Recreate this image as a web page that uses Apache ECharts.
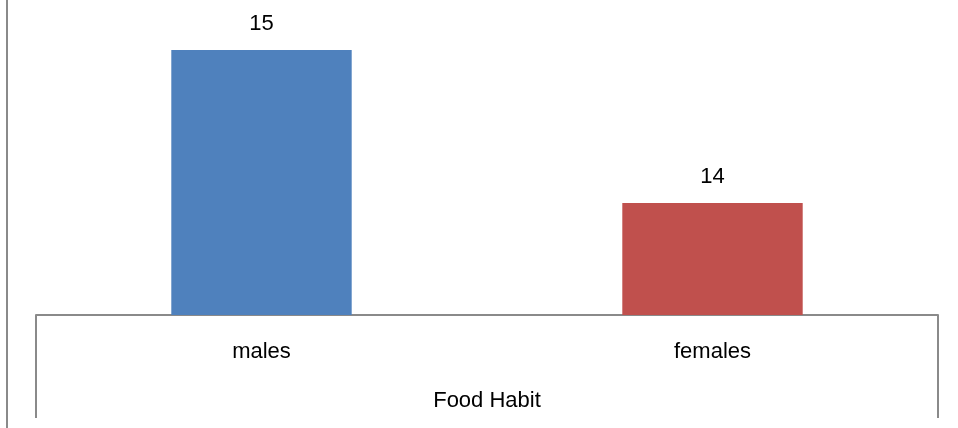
<!DOCTYPE html>
<html>
<head>
<meta charset="utf-8">
<script src="https://cdn.jsdelivr.net/npm/echarts@6/dist/echarts.min.js"></script>
<style>
  html, body { margin: 0; padding: 0; background: #fff; }
  #main { width: 958px; height: 428px; }
</style>
</head>
<body>
<div id="main"></div>
<script>
(function () {

    // data
    var categories = ['males', 'females'];
    var counts = [15, 14];
    var barColors = ['#4F81BD', '#C0504D'];
    var axisTitle = 'Food Habit';

    var lineColor = '#8a8a8a';
    var font = '"Liberation Sans", Arial, sans-serif';

    var chart = echarts.init(document.getElementById('main'));

    var option = {
        backgroundColor: '#ffffff',
        animation: false,
        grid: {
            left: 36,
            right: 20,
            top: 0,
            bottom: 113
        },
        xAxis: {
            type: 'category',
            data: categories,
            boundaryGap: true,
            axisLine: { show: true, lineStyle: { color: lineColor, width: 2 } },
            axisTick: { show: false },
            axisLabel: {
                margin: 26,
                color: '#000',
                fontFamily: font,
                fontSize: 22
            },
            name: axisTitle,
            nameLocation: 'middle',
            nameGap: 75,
            nameTextStyle: {
                color: '#000',
                fontFamily: font,
                fontSize: 22
            }
        },
        yAxis: {
            type: 'value',
            // the picture shows only the upper part of the value range
            min: 13.268,
            max: 15.327,
            show: false
        },
        series: [{
            type: 'bar',
            barWidth: '40%',
            data: counts.map(function (v, i) {
                return { value: v, itemStyle: { color: barColors[i] } };
            }),
            label: {
                show: true,
                position: 'top',
                distance: 15,
                color: '#000',
                fontFamily: font,
                fontSize: 22
            }
        }],
        graphic: [
            // outer frame line on the left
            { type: 'line', shape: { x1: 7, y1: 0, x2: 7, y2: 428 },
              style: { stroke: lineColor, lineWidth: 2 } },
            // category table sides
            { type: 'line', shape: { x1: 36, y1: 315, x2: 36, y2: 418 },
              style: { stroke: lineColor, lineWidth: 2 } },
            { type: 'line', shape: { x1: 938, y1: 315, x2: 938, y2: 418 },
              style: { stroke: lineColor, lineWidth: 2 } }
        ]
    };

    chart.setOption(option);

})();
</script>
</body>
</html>
